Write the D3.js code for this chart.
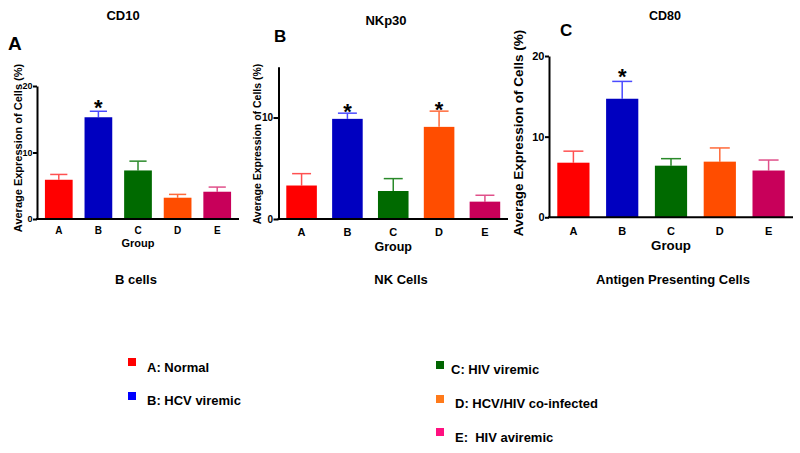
<!DOCTYPE html>
<html><head><meta charset="utf-8">
<script src="https://cdn.jsdelivr.net/npm/d3@7"></script>
<style>body{margin:0;background:#fff}svg{display:block;font-family:"Liberation Sans",Arial,sans-serif;font-weight:bold}</style>
</head><body><svg id="c" width="800" height="453"></svg>
<script>
const groups = ["A","B","C","D","E"];
const panelTitles = ["CD10","NKp30","CD80"];
const panelLetters = ["A","B","C"];
const cellTypes = ["B cells","NK Cells","Antigen Presenting Cells"];
const cd10Mean = [5.9, 15.3, 7.3, 3.2, 4.1];
const cd10Err = [6.7, 16.2, 8.7, 3.7, 4.8];
const nkp30Mean = [3.3, 9.87, 2.76, 9.08, 1.71];
const nkp30Err = [4.47, 10.43, 3.98, 10.63, 2.34];
const cd80Mean = [6.77, 14.7, 6.4, 6.9, 5.8];
const cd80Err = [8.2, 16.85, 7.27, 8.6, 7.1];
const yTicks = [[0,10,20],[0,10],[0,10,20]];
const yMax = [20, 15, 20];
const significant = [["B"],["B","D"],["B"]];
const legendLabels = ["A: Normal","B: HCV viremic","C: HIV viremic","D: HCV/HIV co-infected","E:  HIV aviremic"];

const barColors = ["#ff0000","#0000c0","#006a00","#ff4d00","#c8005a"];
const errColors = ["#ff5050","#4a4aff","#2a8a2a","#ff6a3a","#e0508a"];
const legendColors = ["#ff0000","#0000ff","#006400","#ff7a1a","#ff1080"];

const svg = d3.select("#c");
const means = [cd10Mean, nkp30Mean, cd80Mean];
const errs = [cd10Err, nkp30Err, cd80Err];

const layout = [
  {x0:37, x1:239, y0:219, yTop:86, pi:0.3, po:0.2, tick:9, tks:4, xt:10, group:11, ylab:11, ylabX:22, ylabY:148, title:[123,20,13], letter:[8,50,19], grpY:247, tkY:234, sub:[136,284], star:4},
  {x0:278.5, x1:508, y0:219, yTop:66.8, pi:0.333, po:0.17, tick:10, tks:5, xt:11, group:12.5, ylab:10.5, ylabX:261, ylabY:144, title:[386,25,13], letter:[274,42,17], grpY:251, tkY:236, sub:[401,284], star:6},
  {x0:549, x1:793, y0:217.3, yTop:56, pi:0.34, po:0.17, tick:11, tks:4, xt:11, group:13.3, ylab:13.5, ylabX:523, ylabY:133, title:[665,20,12.5], letter:[560,36,17], grpY:250, tkY:235, sub:[673,284], star:3}
];

layout.forEach((L, p) => {
  const g = svg.append("g");
  const x = d3.scaleBand().domain(groups).range([L.x0, L.x1]).paddingInner(L.pi).paddingOuter(L.po);
  const y = d3.scaleLinear().domain([0, yMax[p]]).range([L.y0, L.yTop]);
  const data = groups.map((k, i) => ({k, i, m: means[p][i], e: errs[p][i]}));

  // error bars
  const cap = x.bandwidth() * 0.62;
  data.forEach(d => {
    const cx = x(d.k) + x.bandwidth()/2;
    g.append("line").attr("x1", cx).attr("x2", cx).attr("y1", y(d.m)).attr("y2", y(d.e))
      .attr("stroke", errColors[d.i]).attr("stroke-width", 1.5);
    g.append("line").attr("x1", cx - cap/2).attr("x2", cx + cap/2).attr("y1", y(d.e)).attr("y2", y(d.e))
      .attr("stroke", errColors[d.i]).attr("stroke-width", 1.5);
  });
  g.selectAll("rect.bar").data(data).join("rect").attr("class","bar")
    .attr("x", d => x(d.k)).attr("width", x.bandwidth())
    .attr("y", d => y(d.m)).attr("height", d => y(0) - y(d.m))
    .attr("fill", d => barColors[d.i]);

  // significance stars
  data.filter(d => significant[p].includes(d.k)).forEach(d => {
    g.append("text").attr("x", x(d.k) + x.bandwidth()/2).attr("y", y(d.e) + L.star)
      .attr("text-anchor","middle").attr("font-size", 22).attr("font-weight","bold").text("*");
  });

  // y axis
  const ya = g.append("g").attr("transform", `translate(${L.x0},0)`)
    .call(d3.axisLeft(y).tickValues(yTicks[p]).tickSize(L.tks).tickPadding(0.5).tickSizeOuter(0));
  ya.select(".domain").attr("stroke-width", 2);
  ya.selectAll(".tick line").attr("stroke-width", 2);
  ya.selectAll("text").attr("font-size", L.tick).attr("font-family", null).attr("font-weight","bold");

  // x axis
  g.append("line").attr("x1", L.x0 - 1).attr("x2", L.x1).attr("y1", L.y0).attr("y2", L.y0)
    .attr("stroke", "#000").attr("stroke-width", 2);
  g.selectAll("text.xt").data(groups).join("text").attr("class","xt")
    .attr("x", d => x(d) + x.bandwidth()/2).attr("y", L.tkY)
    .attr("text-anchor","middle").attr("font-size", L.xt).text(d => d);
  g.append("text").attr("x", (L.x0 + L.x1)/2).attr("y", L.grpY).attr("text-anchor","middle")
    .attr("font-size", L.group).text("Group");

  // y label
  g.append("text").attr("transform", `translate(${L.ylabX},${L.ylabY}) rotate(-90)`)
    .attr("text-anchor","middle").attr("font-size", L.ylab).text("Average Expression of Cells (%)");

  // title, letter, subtitle
  g.append("text").attr("x", L.title[0]).attr("y", L.title[1]).attr("text-anchor","middle")
    .attr("font-size", L.title[2]).text(panelTitles[p]);
  g.append("text").attr("x", L.letter[0]).attr("y", L.letter[1])
    .attr("font-size", L.letter[2]).text(panelLetters[p]);
  g.append("text").attr("x", L.sub[0]).attr("y", L.sub[1]).attr("text-anchor","middle")
    .attr("font-size", 13).style("font-family", '"Liberation Sans Narrow","Liberation Sans",Arial,sans-serif')
    .text(cellTypes[p]);
});

// legend
const legPos = [[128,358,147,372],[128,392,147,405],[436,361,451,374],[436,395,455,408],[436,428,455,442]];
const leg = svg.append("g");
legendLabels.forEach((t, i) => {
  const [sx, sy, tx, ty] = legPos[i];
  leg.append("rect").attr("x", sx).attr("y", sy).attr("width", 8).attr("height", 8).attr("fill", legendColors[i]);
  leg.append("text").attr("x", tx).attr("y", ty).attr("font-size", 13).attr("xml:space","preserve")
    .style("white-space","pre").text(t);
});
</script></body></html>
